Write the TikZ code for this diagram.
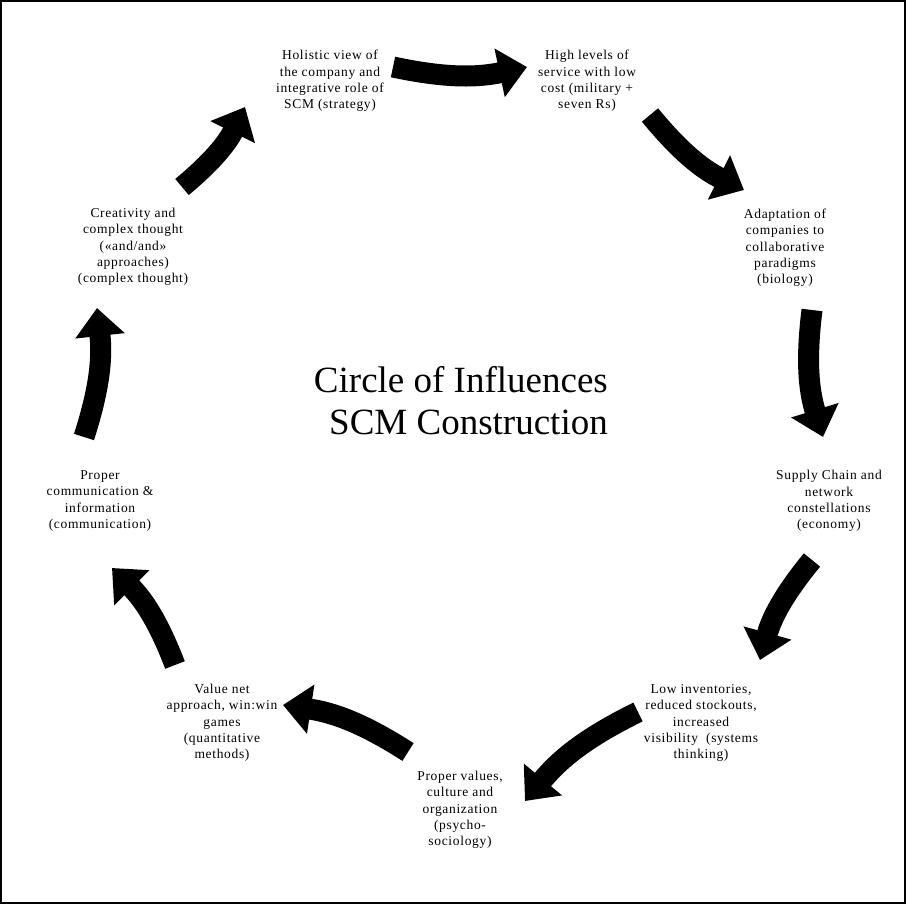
\documentclass[tikz,border=0pt]{standalone}
\usepackage{fontspec}
\setmainfont{Liberation Serif}
\newfontfamily\lblfont{Liberation Serif}[LetterSpace=5]
\usetikzlibrary{arrows.meta}
\begin{document}
\begin{tikzpicture}[x=1pt,y=-1pt,
  lbl/.style={align=center,inner sep=0pt,font=\lblfont\fontsize{13.5}{16.3}\selectfont},
  ttl/.style={anchor=base east,inner sep=0pt,font=\fontsize{37}{43}\selectfont},
  blk/.style={line width=21pt,-{Triangle[length=28pt,width=48pt]},bend right=12}]
\useasboundingbox (0,0) rectangle (906,904);
\draw[line width=1.2pt] (1,1) rectangle (905,903);
% labels
\node[lbl] (n1) at (330,81) {Holistic view of\\the company and\\integrative role of\\SCM (strategy)};
\node[lbl] (n2) at (587,81) {High levels of\\service with low\\cost (military +\\seven Rs)};
\node[lbl] (n3) at (785,248) {Adaptation of\\companies to\\collaborative\\paradigms\\(biology)};
\node[lbl] (n4) at (829,501) {Supply Chain and\\network\\constellations\\(economy)};
\node[lbl] (n5) at (701,723) {Low inventories,\\reduced stockouts,\\increased\\visibility\ \ (systems\\thinking)};
\node[lbl] (n6) at (460,810) {Proper values,\\culture and\\organization\\(psycho-\\sociology)};
\node[lbl] (n7) at (222,723) {Value net\\approach, win:win\\games\\(quantitative\\methods)};
\node[lbl] (n8) at (100,501) {Proper\\communication \&\\information\\(communication)};
\node[lbl] (n9) at (133,247) {Creativity and\\complex thought\\(«and/and»\\approaches)\\(complex thought)};
% title
\node[ttl] (t1) at (608,392) {Circle of Influences};
\node[ttl] (t2) at (608,435) {SCM Construction};
% arrow end points
\coordinate (a1s) at (393,67);  \coordinate (a1e) at (527,67);
\coordinate (a2s) at (650,115); \coordinate (a2e) at (744,190);
\coordinate (a3s) at (812,310); \coordinate (a3e) at (823,437);
\coordinate (a4s) at (812,560); \coordinate (a4e) at (760,660);
\coordinate (a5s) at (638,712); \coordinate (a5e) at (525,801);
\coordinate (a6s) at (408,752); \coordinate (a6e) at (283,705);
\coordinate (a7s) at (175,665); \coordinate (a7e) at (112,568);
\coordinate (a8s) at (84,437);  \coordinate (a8e) at (97,308);
\coordinate (a9s) at (182,187); \coordinate (a9e) at (245,107);
\draw[blk] (a1s) to (a1e);
\draw[blk] (a2s) to (a2e);
\draw[blk] (a3s) to (a3e);
\draw[blk] (a4s) to (a4e);
\draw[blk] (a5s) to (a5e);
\draw[blk] (a6s) to (a6e);
\draw[blk] (a7s) to (a7e);
\draw[blk] (a8s) to (a8e);
\draw[blk] (a9s) to (a9e);
\end{tikzpicture}
\end{document}
